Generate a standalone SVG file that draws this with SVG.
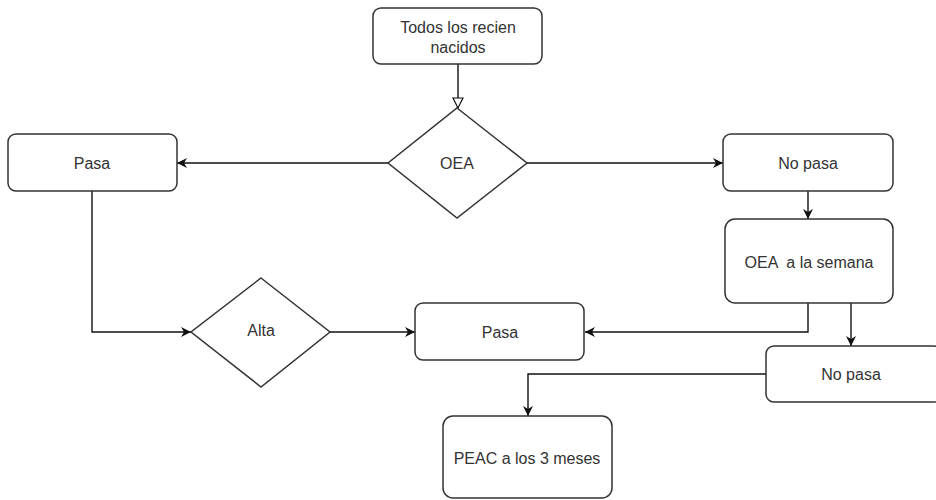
<svg xmlns="http://www.w3.org/2000/svg" width="936" height="500" viewBox="0 0 936 500">
<style>
.n{fill:#fff;stroke:#333;stroke-width:1.5}
.t{font-family:"Liberation Sans",Arial,sans-serif;font-size:16px;fill:#333;text-anchor:middle;dominant-baseline:central;white-space:pre}
.c{fill:none;stroke:#111;stroke-width:1.4}
</style>
<defs>
<marker id="a" viewBox="0 0 10 10" refX="10" refY="5" markerWidth="10" markerHeight="10" markerUnits="userSpaceOnUse" orient="auto">
<path d="M0,0 L10,5 L0,10 L3,5 Z" fill="#111"/>
</marker>
<marker id="h" viewBox="0 0 12 12" refX="11" refY="6" markerWidth="15" markerHeight="12" markerUnits="userSpaceOnUse" orient="auto">
<path d="M1,1 L11,6 L1,11 Z" fill="#fff" stroke="#111" stroke-width="1.2"/>
</marker>
</defs>
<g id="connectors">
<path class="c" d="M458,64 V108" marker-end="url(#h)"/>
<path class="c" d="M388,163 H177" marker-end="url(#a)"/>
<path class="c" d="M527,163 H723" marker-end="url(#a)"/>
<path class="c" d="M808,191 V219" marker-end="url(#a)"/>
<path class="c" d="M92,191 V332 H191" marker-end="url(#a)"/>
<path class="c" d="M330,332 H415" marker-end="url(#a)"/>
<path class="c" d="M808,303 V332 H585" marker-end="url(#a)"/>
<path class="c" d="M851,303 V346" marker-end="url(#a)"/>
<path class="c" d="M766,374 H528 V416" marker-end="url(#a)"/>
</g>
<g id="todos"><rect class="n" x="373" y="8" width="169" height="56" rx="8"/><text class="t" x="458" y="27">Todos los recien</text><text class="t" x="458" y="47">nacidos</text></g>
<g id="oea"><path class="n" d="M457,108 L527,163 L457,218 L388,163 Z"/><text class="t" x="457" y="163">OEA</text></g>
<g id="pasa1"><rect class="n" x="8" y="134" width="169" height="57" rx="8"/><text class="t" x="92" y="163">Pasa</text></g>
<g id="nopasa1"><rect class="n" x="723" y="134" width="170" height="57" rx="8"/><text class="t" x="808" y="163">No pasa</text></g>
<g id="oeasemana"><rect class="n" x="725" y="219" width="168" height="84" rx="10"/><text class="t" x="809" y="262">OEA  a la semana</text></g>
<g id="alta"><path class="n" d="M261,278 L330,332 L261,387 L191,332 Z"/><text class="t" x="261" y="330">Alta</text></g>
<g id="pasa2"><rect class="n" x="415" y="303" width="169" height="57" rx="8"/><text class="t" x="500" y="332">Pasa</text></g>
<g id="nopasa2"><rect class="n" x="766" y="346" width="176" height="56" rx="8"/><text class="t" x="851" y="374">No pasa</text></g>
<g id="peac"><rect class="n" x="443" y="416" width="169" height="82" rx="10"/><text class="t" x="527" y="458">PEAC a los 3 meses</text></g>
</svg>
